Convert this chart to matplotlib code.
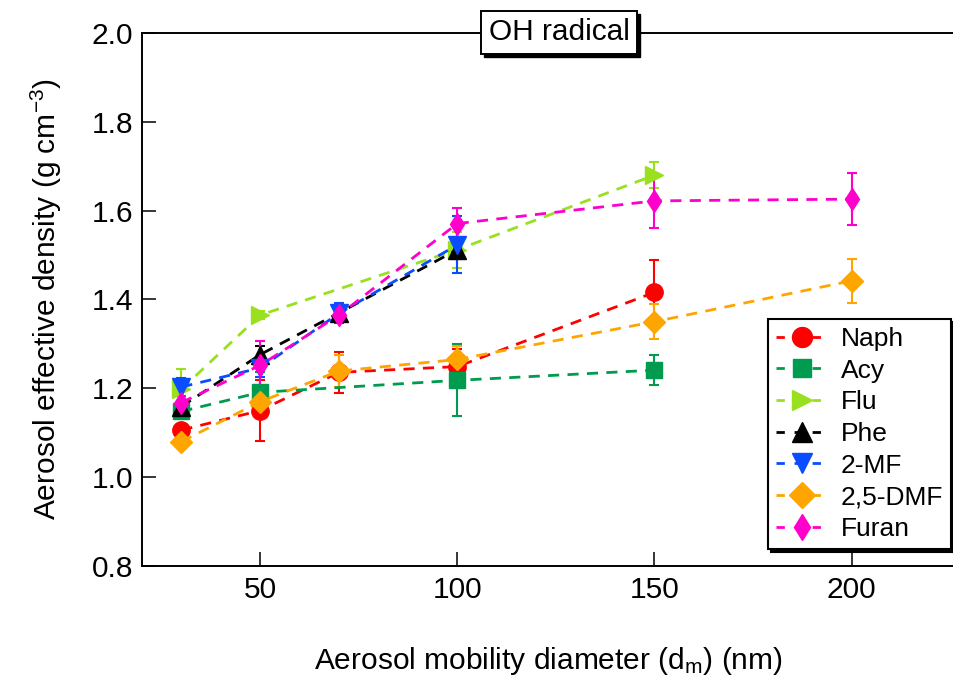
import matplotlib
matplotlib.use("Agg")
import matplotlib.pyplot as plt
from matplotlib.patches import Rectangle
from matplotlib.lines import Line2D
import numpy as np

plt.rcParams['font.family'] = ['Liberation Sans', 'DejaVu Sans']
plt.rcParams['mathtext.fontset'] = 'custom'
plt.rcParams['mathtext.rm'] = 'Liberation Sans'
plt.rcParams['mathtext.it'] = 'Liberation Sans'
plt.rcParams['mathtext.bf'] = 'Liberation Sans'

# ---- data ----
naph_x = [30, 50, 70, 100, 150]
naph_y = [1.106, 1.150, 1.236, 1.249, 1.416]
naph_e = [0.010, 0.068, 0.046, 0.040, 0.073]

acy_x = [30, 50, 100, 150]
acy_y = [1.148, 1.191, 1.218, 1.241]
acy_e = [0.010, 0.045, 0.081, 0.033]

flu_x = [30, 50, 100, 150]
flu_y = [1.198, 1.365, 1.512, 1.680]
flu_e = [0.045, 0.010, 0.040, 0.029]

phe_x = [30, 50, 70, 100]
phe_y = [1.159, 1.276, 1.370, 1.512]
phe_e = [0.010, 0.020, 0.015, 0.020]

mf_x = [30, 50, 70, 100]
mf_y = [1.203, 1.246, 1.369, 1.523]
mf_e = [0.021, 0.020, 0.022, 0.064]

dmf_x = [30, 50, 70, 100, 150, 200]
dmf_y = [1.080, 1.170, 1.239, 1.265, 1.350, 1.442]
dmf_e = [0.010, 0.015, 0.036, 0.030, 0.039, 0.049]

furan_x = [30, 50, 70, 100, 150, 200]
furan_y = [1.168, 1.252, 1.365, 1.571, 1.622, 1.626]
furan_e = [0.015, 0.055, 0.015, 0.034, 0.060, 0.058]

series = [
    ("Naph", naph_x, naph_y, naph_e, "#FF0000", "o", 12.5),
    ("Acy", acy_x, acy_y, acy_e, "#009B4E", "s", 11.5),
    ("Flu", flu_x, flu_y, flu_e, "#99E01F", ">", 13),
    ("Phe", phe_x, phe_y, phe_e, "#000000", "^", 13),
    ("2-MF", mf_x, mf_y, mf_e, "#0A4CFF", "v", 13),
    ("2,5-DMF", dmf_x, dmf_y, dmf_e, "#FFA500", "D", 11.5),
    ("Furan", furan_x, furan_y, furan_e, "#FF00CC", "d", 11.5),
]

x_ticks = [50, 100, 150, 200]
y_ticks = [0.8, 1.0, 1.2, 1.4, 1.6, 1.8, 2.0]

fig = plt.figure(figsize=(9.54, 6.76), dpi=100)
ax = fig.add_axes([142/954, 1-566/676, 1-142/954, (566-33)/676])

handles = []
for name, xs, ys, es, col, mk, ms in series:
    ax.errorbar(xs, ys, yerr=es, color=col, ecolor=col, elinewidth=1.5,
                capsize=3.8, capthick=1.5, marker=mk, markersize=ms,
                markeredgecolor=col, markerfacecolor=col,
                linestyle=(0, (4, 3)), linewidth=2.0)
    handles.append(Line2D([], [], color=col, marker=mk, markersize=ms * 1.15,
                          markeredgecolor=col, markerfacecolor=col,
                          linestyle=(0, (3, 3.5)), linewidth=2.0, label=name))

ax.set_xlim(20, 226)
ax.set_ylim(0.8, 2.0)
ax.set_xticks(x_ticks)
ax.set_yticks(y_ticks)
ax.set_yticklabels([f"{v:.1f}" for v in y_ticks])
ax.tick_params(direction='in', length=10, width=1.1, labelsize=21.5, pad=6.5)
ax.tick_params(axis='x', pad=7)
for s in ['left', 'bottom', 'top']:
    ax.spines[s].set_linewidth(1.4)
ax.spines['right'].set_visible(False)

ax.set_xlabel(r"Aerosol mobility diameter (d$_{\mathregular{m}}$) (nm)", fontsize=21.5, labelpad=30)
ax.set_ylabel(r"Aerosol effective density (g cm$^{\mathregular{-3}}$)", fontsize=21.5, labelpad=20)

leg = ax.legend(handles=handles, loc='upper left', bbox_to_anchor=(768/954, 1-319/676),
                bbox_transform=fig.transFigure, fontsize=19, frameon=True,
                fancybox=False, handlelength=2.0, handletextpad=0.45,
                labelspacing=0.29, borderpad=0.3, borderaxespad=0,
                shadow={'facecolor': 'black', 'edgecolor': 'black', 'alpha': 1})
leg.get_frame().set_edgecolor('black')
leg.get_frame().set_linewidth(1.5)
leg.get_frame().set_alpha(1)

# title box with drop shadow
tx, ty = 559/954, 1-32.5/676
t = fig.text(tx, ty, "OH radical", fontsize=21.5, ha='center', va='center',
             zorder=10,
             bbox=dict(boxstyle='square,pad=0.25', fc='white', ec='black', lw=1.4))
fig.canvas.draw()
bb = t.get_bbox_patch().get_window_extent(fig.canvas.get_renderer())
fig.patches.append(Rectangle((bb.x0 + 3, bb.y0 - 3), bb.width, bb.height,
                             transform=None, fc='black', ec='black', zorder=9,
                             figure=fig))

fig.savefig("out.png", dpi=100)
